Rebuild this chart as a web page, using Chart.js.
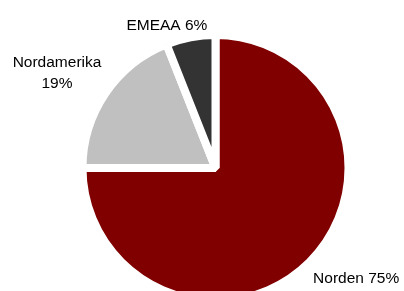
<!DOCTYPE html>
<html>
<head>
<meta charset="utf-8">
<script src="https://cdn.jsdelivr.net/npm/chart.js@4/dist/chart.umd.min.js"></script>
<style>
  html, body { margin: 0; padding: 0; background: #fff; overflow: hidden; }
  .chart-wrap { position: relative; width: 404px; height: 336px; }
</style>
</head>
<body>
<div class="chart-wrap">
  <canvas id="regionChart"></canvas>
</div>
<script>
// regions and their share (%)
const regions = ["Norden", "Nordamerika", "EMEAA"];
const shares = [75, 19, 6];
const sliceColors = ["#800000", "#C0C0C0", "#333333"];

const fontSize = 15.5;
const labelFont = fontSize + "px 'Liberation Sans', Arial, sans-serif";
const lineH = 20.6;

// outside labels, placed from each arc's own geometry
const outsideLabels = {
  id: "outsideLabels",
  afterDatasetsDraw(chart) {
    const ctx = chart.ctx;
    const arcs = chart.getDatasetMeta(0).data;
    ctx.save();
    ctx.font = labelFont;
    ctx.fillStyle = "#000";
    ctx.textAlign = "center";
    ctx.textBaseline = "alphabetic";

    arcs.forEach((arc, i) => {
      const p = arc.getProps(["x", "y", "startAngle", "endAngle", "outerRadius"], true);
      const mid = (p.startAngle + p.endAngle) / 2;
      const cos = Math.cos(mid), sin = Math.sin(mid);
      const r = p.outerRadius + 5;
      const px = p.x + r * cos;
      const py = p.y + r * sin;
      const clamp = v => Math.max(-1, Math.min(1, v * 3));

      let lines = [regions[i] + " " + shares[i] + "%"];
      let w = ctx.measureText(lines[0]).width;
      let cx = px + (w / 2) * clamp(cos);
      // wrap when the one-line label would run off the canvas
      if (cx - w / 2 < 0 || cx + w / 2 > chart.width) {
        lines = [regions[i], shares[i] + "%"];
        w = Math.max(...lines.map(l => ctx.measureText(l).width));
        cx = px + (w / 2) * clamp(cos);
      }
      const h = lines.length * lineH;
      const cy = py + (h / 2) * clamp(sin);
      lines.forEach((l, k) => {
        // baseline so that cap height is centred in its line
        ctx.fillText(l, cx, cy - h / 2 + lineH * (k + 0.5) + fontSize * 0.36 + 2);
      });
    });
    ctx.restore();
  }
};

new Chart(document.getElementById("regionChart"), {
  type: "pie",
  data: {
    labels: regions,
    datasets: [{
      data: shares,
      backgroundColor: sliceColors,
      borderColor: "#ffffff",
      borderWidth: 8,
      radius: 133
    }]
  },
  options: {
    responsive: true,
    maintainAspectRatio: false,
    animation: false,
    layout: { padding: { left: 27, right: 0, top: 0, bottom: 0 } },
    plugins: {
      legend: { display: false },
      tooltip: { enabled: false }
    }
  },
  plugins: [outsideLabels]
});
</script>
</body>
</html>
